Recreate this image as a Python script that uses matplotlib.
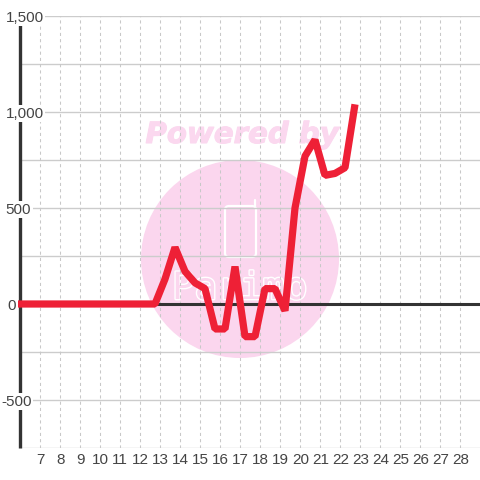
import matplotlib
matplotlib.use("Agg")
import matplotlib.pyplot as plt
import matplotlib.patheffects as pe
from matplotlib.patches import Circle, FancyBboxPatch

plt.rcParams['font.family'] = ['Liberation Sans', 'DejaVu Sans']

days = list(range(7, 29))
y_ticks = [1500, 1000, 500, 0, -500]
y_labels = ['1,500', '1,000', '500', '0', '-500']
minor_y = [1250, 750, 250, -250, -750]
series_x = [5.85, 6.25, 6.75, 7.25, 7.75, 8.25, 8.75, 9.25, 9.75, 10.25, 10.75, 11.25, 11.75, 12.25, 12.75,
            13.25, 13.75, 14.25, 14.75, 15.25, 15.75, 16.25, 16.75, 17.25, 17.75, 18.25, 18.75, 19.25,
            19.75, 20.25, 20.75, 21.25, 21.75, 22.25, 22.75]
series_y = [0, 0, 0, 0, 0, 0, 0, 0, 0, 0, 0, 0, 0, 0, 0,
            130, 295, 170, 110, 80, -130, -130, 195, -170, -170, 80, 80, -35,
            500, 770, 855, 670, 680, 710, 1040]

fig = plt.figure(figsize=(4.8, 4.8), dpi=100, facecolor='white')
ax = fig.add_axes([20/480, 32/480, 460/480, 432/480])
ax.set_xlim(6, 29)
ax.set_ylim(-750, 1500)
for s in ax.spines.values():
    s.set_visible(False)
ax.set_xticks([])
ax.set_yticks([])

# watermark, in pixel coordinates of the figure
pink = '#fbd6ee'
wm = fig.add_axes([0, 0, 1, 1], zorder=0)
wm.set_xlim(0, 480)
wm.set_ylim(480, 0)
wm.axis('off')
ax.set_zorder(1)
ax.patch.set_alpha(0)
wm.add_patch(Circle((240, 259), 99, fc=pink, ec='none'))
wm.add_patch(FancyBboxPatch((225, 206), 31, 51, boxstyle='round,pad=0,rounding_size=4',
                            fc='none', ec='white', lw=1.6))
wm.plot([254.5, 254.5], [206, 200], color='white', lw=1.6, solid_capstyle='round')
wm.text(242, 135, 'Powered by', color='#fbd8ef', fontsize=21, fontweight='bold', style='italic',
        family='DejaVu Sans', ha='center', va='center',
        path_effects=[pe.Stroke(linewidth=0.8, foreground='#fbd8ef'), pe.Normal()])
wm.text(240, 289, 'Parimo', color=pink, fontsize=27, ha='center', va='center',
        family='DejaVu Sans Mono',
        path_effects=[pe.Stroke(linewidth=2.0, foreground='white'), pe.Normal()])

# grid
ax.hlines(minor_y + [v for v in y_ticks if v != 0], 6, 29, color='#cccccc', lw=1.0, zorder=1)
ax.vlines(days, -750, 1500, color='#c8c8c8', lw=0.75, linestyles=(0, (3, 3)), zorder=1)
# axes
ax.axhline(0, color='#333333', lw=2.2, zorder=2, solid_capstyle='butt')
ax.axvline(6, ymin=0, ymax=1, color='#333333', lw=2.4, zorder=2, clip_on=False, solid_capstyle='butt')
# series
ax.plot(series_x, series_y, color='#ee2036', lw=5.2, solid_joinstyle='bevel',
        solid_capstyle='butt', zorder=3, clip_on=False)

# labels
for d in days:
    ax.annotate(str(d), (d, -750), xytext=(0.2, -9), textcoords='offset points',
                ha='center', va='center', fontsize=11, color='#444444')
offs = {'1,500': 24.5, '1,000': 24.5, '500': 18.5, '0': 12, '-500': 16.5}
for v, l in zip(y_ticks, y_labels):
    y = ax.transData.transform((0, v))[1] - 1.5
    fig.text(offs[l]/480, y/480, l, ha='center', va='center', fontsize=11, color='#444444',
             zorder=5, bbox=dict(fc='white', ec='none', pad=1.2))
fig.savefig('out.png', dpi=100)
